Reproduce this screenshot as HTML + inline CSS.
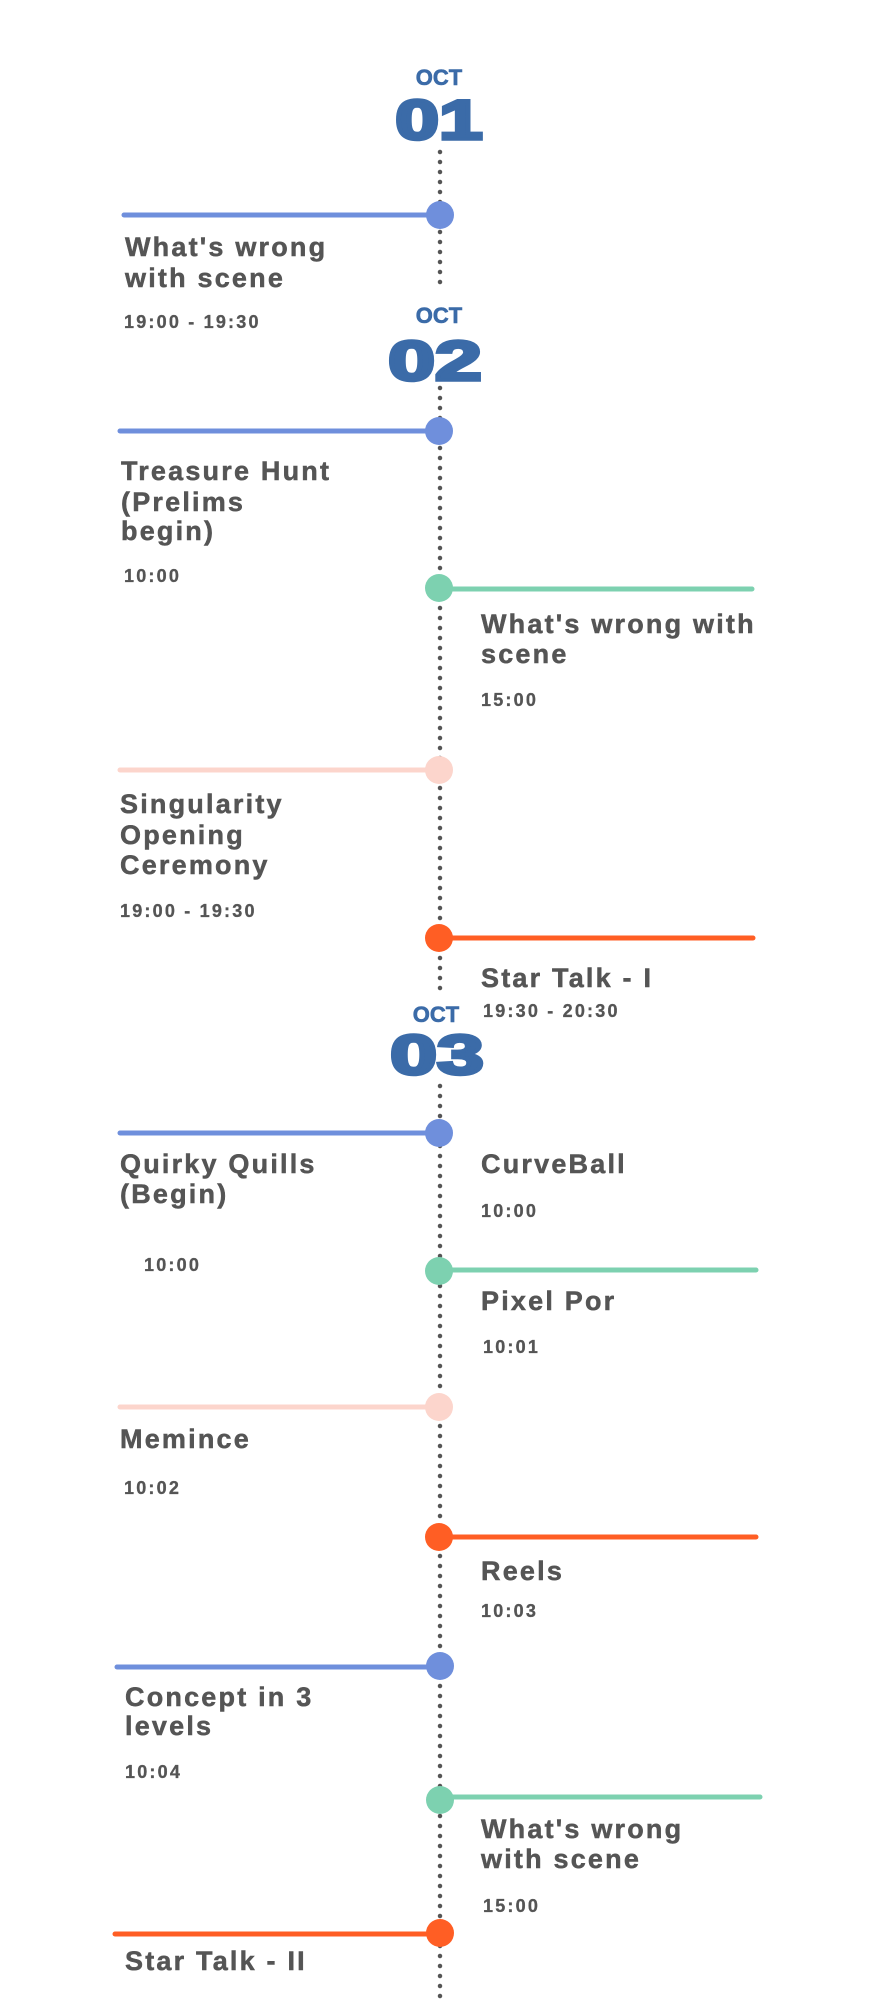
<!DOCTYPE html>
<html><head><meta charset="utf-8"><style>
html,body{margin:0;padding:0;background:#fff;width:880px;height:2000px;overflow:hidden}
svg{display:block}
.t{font-family:"Liberation Sans",sans-serif;font-weight:bold;fill:#555;stroke:#555;stroke-width:0.5;font-size:27px;letter-spacing:2.2px}
.s{font-family:"Liberation Sans",sans-serif;font-weight:bold;fill:#555;stroke:#555;stroke-width:0.3;font-size:18px;letter-spacing:2.2px}
.o{font-family:"Liberation Sans",sans-serif;font-weight:bold;fill:#3b6ba8;stroke:#3b6ba8;stroke-width:0.6;font-size:22px;text-anchor:middle}
.d{font-family:"Liberation Sans",sans-serif;font-weight:900;fill:#3b6ba8;stroke:#3b6ba8;stroke-width:3.5;font-size:56px;text-anchor:middle}
</style></head><body>
<svg width="880" height="2000" viewBox="0 0 880 2000">
<g stroke="#555" stroke-width="4.5" stroke-linecap="round" stroke-dasharray="0 10">
<line x1="440" y1="152" x2="440" y2="292"/>
<line x1="440" y1="388" x2="440" y2="996"/>
<line x1="440" y1="1086" x2="440" y2="2000"/>
</g>
<text class="o" x="439" y="85">OCT</text>
<text class="d" transform="translate(439,139) scale(1.4,1)">01</text>
<text class="o" x="439" y="323">OCT</text>
<text class="d" transform="translate(435,380) scale(1.5,1)">02</text>
<text class="o" x="436" y="1022">OCT</text>
<text class="d" transform="translate(437,1074) scale(1.5,1)">03</text>
<g stroke-width="5" stroke-linecap="round">
<line x1="124" y1="215" x2="440" y2="215" stroke="#6f8fdc"/>
<line x1="120" y1="431" x2="440" y2="431" stroke="#6f8fdc"/>
<line x1="440" y1="589" x2="752" y2="589" stroke="#7dd1b0"/>
<line x1="120" y1="770" x2="440" y2="770" stroke="#fcd5cc"/>
<line x1="440" y1="938" x2="753" y2="938" stroke="#ff5e24"/>
<line x1="120" y1="1133" x2="440" y2="1133" stroke="#6f8fdc"/>
<line x1="440" y1="1270" x2="756" y2="1270" stroke="#7dd1b0"/>
<line x1="120" y1="1407" x2="440" y2="1407" stroke="#fcd5cc"/>
<line x1="440" y1="1537" x2="756" y2="1537" stroke="#ff5e24"/>
<line x1="117" y1="1667" x2="440" y2="1667" stroke="#6f8fdc"/>
<line x1="440" y1="1797" x2="760" y2="1797" stroke="#7dd1b0"/>
<line x1="115" y1="1934" x2="440" y2="1934" stroke="#ff5e24"/>
</g>
<g>
<circle cx="440" cy="215" r="14" fill="#6f8fdc"/>
<circle cx="439" cy="431" r="14" fill="#6f8fdc"/>
<circle cx="439" cy="588" r="14" fill="#7dd1b0"/>
<circle cx="439" cy="770" r="14" fill="#fcd5cc"/>
<circle cx="439" cy="938" r="14" fill="#ff5e24"/>
<circle cx="439" cy="1133" r="14" fill="#6f8fdc"/>
<circle cx="439" cy="1271" r="14" fill="#7dd1b0"/>
<circle cx="439" cy="1407" r="14" fill="#fcd5cc"/>
<circle cx="439" cy="1537" r="14" fill="#ff5e24"/>
<circle cx="440" cy="1666" r="14" fill="#6f8fdc"/>
<circle cx="440" cy="1800" r="14" fill="#7dd1b0"/>
<circle cx="440" cy="1933" r="14" fill="#ff5e24"/>
</g>
<g>
<text class="t" x="125" y="256">What's wrong</text>
<text class="t" x="125" y="287">with scene</text>
<text class="t" x="121" y="480">Treasure Hunt</text>
<text class="t" x="121" y="511">(Prelims</text>
<text class="t" x="121" y="540">begin)</text>
<text class="t" x="481" y="633">What's wrong with</text>
<text class="t" x="481" y="663">scene</text>
<text class="t" x="120" y="813">Singularity</text>
<text class="t" x="120" y="844">Opening</text>
<text class="t" x="120" y="874">Ceremony</text>
<text class="t" x="481" y="987">Star Talk - I</text>
<text class="t" x="120" y="1173">Quirky Quills</text>
<text class="t" x="120" y="1203">(Begin)</text>
<text class="t" x="481" y="1173">CurveBall</text>
<text class="t" x="481" y="1310">Pixel Por</text>
<text class="t" x="120" y="1448">Memince</text>
<text class="t" x="481" y="1580">Reels</text>
<text class="t" x="125" y="1706">Concept in 3</text>
<text class="t" x="125" y="1735">levels</text>
<text class="t" x="481" y="1838">What's wrong</text>
<text class="t" x="481" y="1868">with scene</text>
<text class="t" x="125" y="1970">Star Talk - II</text>
</g>
<g>
<text class="s" x="124" y="328">19:00 - 19:30</text>
<text class="s" x="124" y="582">10:00</text>
<text class="s" x="481" y="706">15:00</text>
<text class="s" x="120" y="917">19:00 - 19:30</text>
<text class="s" x="483" y="1017">19:30 - 20:30</text>
<text class="s" x="481" y="1217">10:00</text>
<text class="s" x="144" y="1271">10:00</text>
<text class="s" x="483" y="1353">10:01</text>
<text class="s" x="124" y="1494">10:02</text>
<text class="s" x="481" y="1617">10:03</text>
<text class="s" x="125" y="1778">10:04</text>
<text class="s" x="483" y="1912">15:00</text>
</g>
</svg>
</body></html>
